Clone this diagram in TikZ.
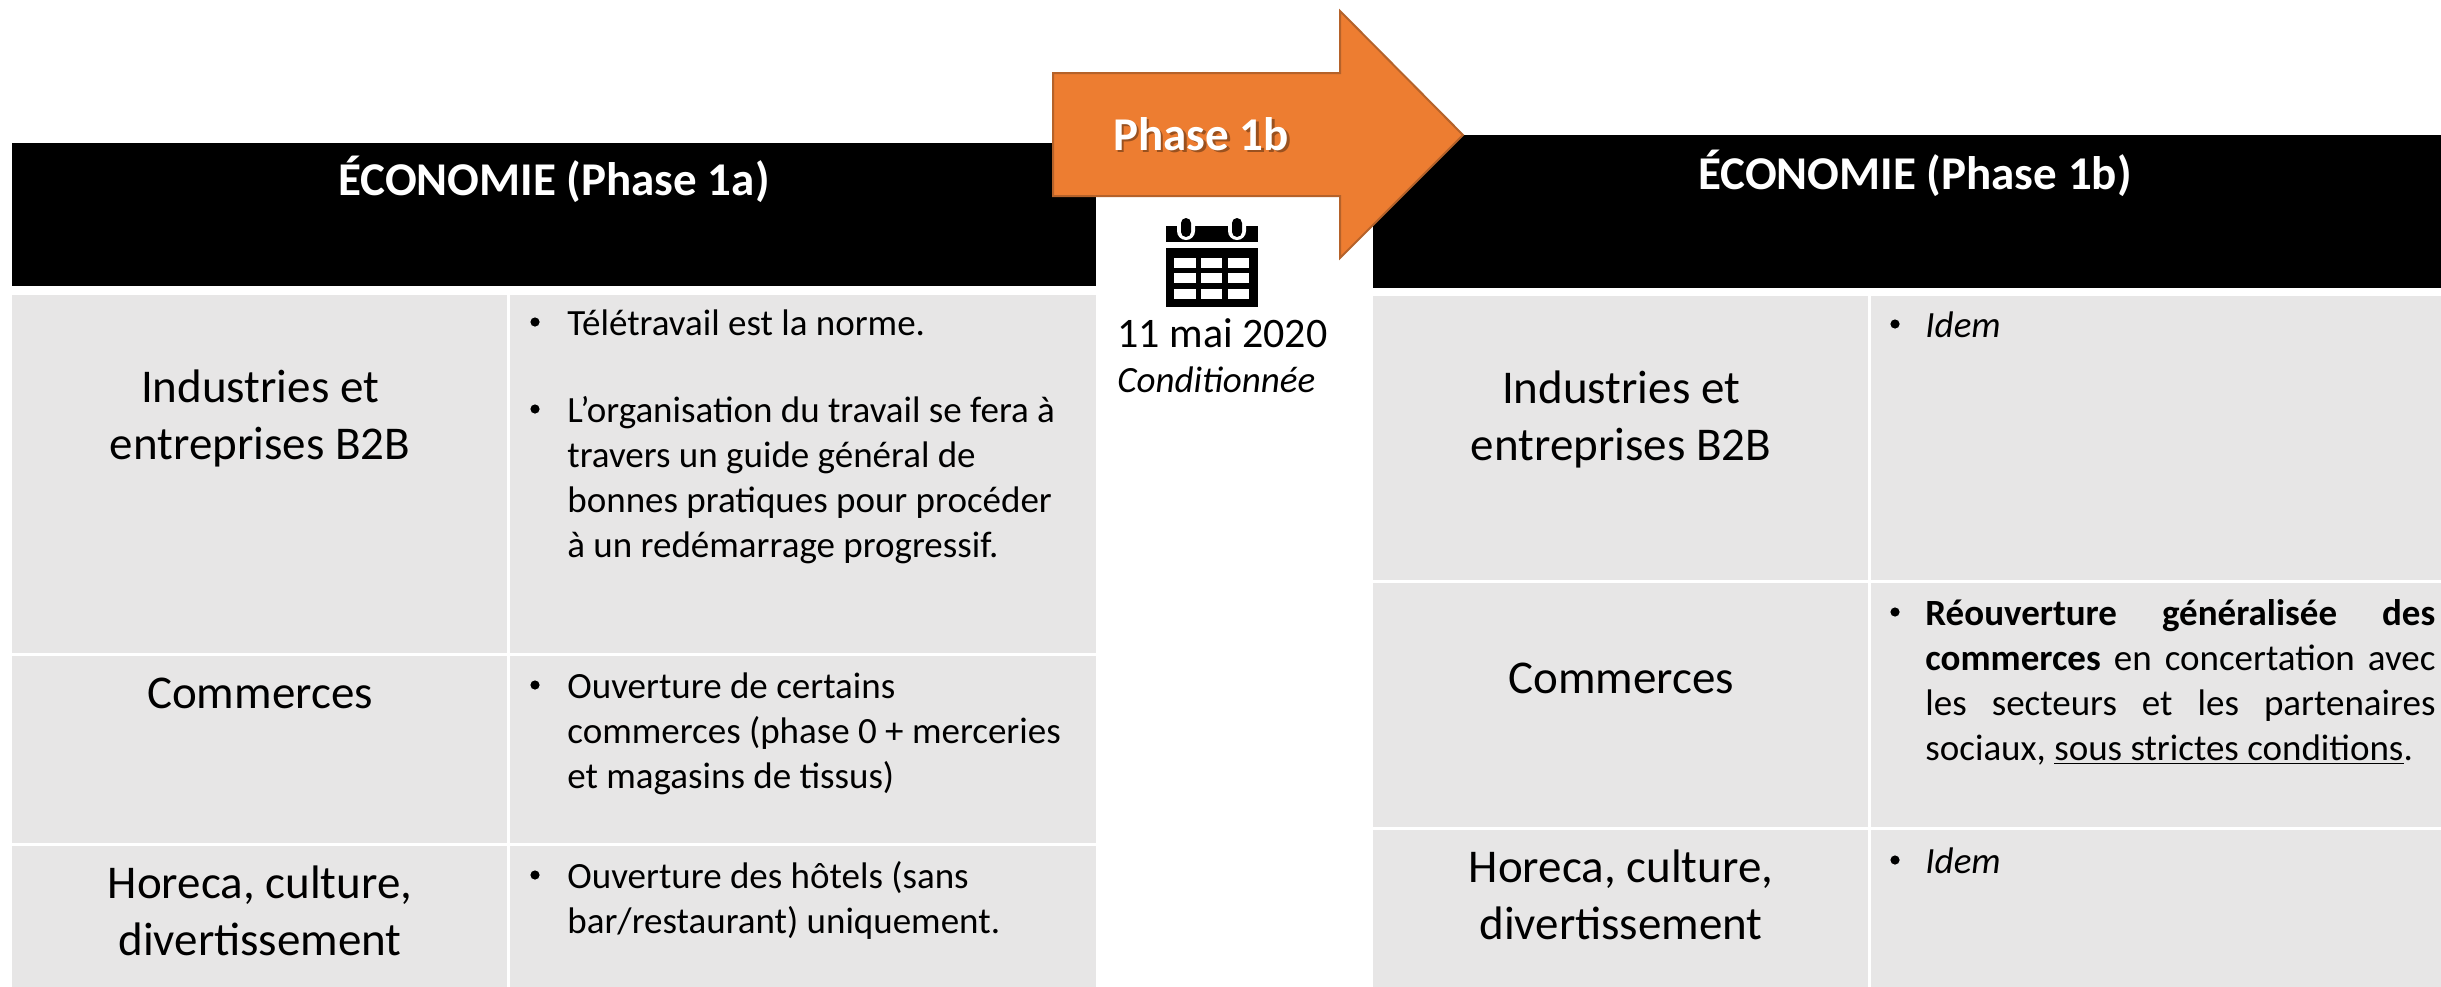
\documentclass[tikz,border=0pt]{standalone}
\usepackage{fontspec}
\setmainfont{Carlito}
\definecolor{cellgrey}{HTML}{E7E6E6}
\definecolor{arroworange}{HTML}{ED7D31}
\definecolor{arrowedge}{HTML}{B5622A}
\begin{document}
\begin{tikzpicture}[x=0.5pt,y=-0.5pt,
  lbl/.style={anchor=base, inner sep=0pt, font=\fontsize{23.5}{28.5}\selectfont},
  blt/.style={anchor=base west, inner sep=0pt, font=\fontsize{18.5}{22.5}\selectfont},
  bdot/.style={circle, fill=black, inner sep=0pt, minimum size=4.6pt},
  hdr/.style={anchor=base, inner sep=0pt, text=white, font=\bfseries\fontsize{23.5}{28}\selectfont},
  cell/.style={fill=cellgrey},
]
\useasboundingbox (0,0) rectangle (2441,986);
\clip (0,0) rectangle (2441,986);
\fill[white] (0,0) rectangle (2441,986);

% ---------- left table ----------
\fill[black] (12,143) rectangle (1096,286);
\node[hdr] (hl) at (554,195) {ÉCONOMIE (Phase 1a)};
\fill[cell] (12,295) rectangle (507,653);
\fill[cell] (510,295) rectangle (1096,653);
\fill[cell] (12,656) rectangle (507,843);
\fill[cell] (510,656) rectangle (1096,843);
\fill[cell] (12,846) rectangle (507,990);
\fill[cell] (510,846) rectangle (1096,990);

\node[lbl] (l1) at (260,402) {\parbox[t]{240pt}{\centering Industries et\\entreprises B2B}};
\node[lbl] (l2) at (260,708) {Commerces};
\node[lbl] (l3) at (260,898) {\parbox[t]{240pt}{\centering Horeca, culture,\\divertissement}};

\node[bdot] (lb1) at (535,322) {};
\node[blt] (lt1) at (567,335) {Télétravail est la norme.};
\node[bdot] (lb2) at (535,409) {};
\node[blt] (lt2) at (567,422) {\parbox[t]{280pt}{\raggedright L’organisation du travail se fera à\\travers un guide général de\\bonnes pratiques pour procéder\\à un redémarrage progressif.}};
\node[bdot] (lb3) at (535,685) {};
\node[blt] (lt3) at (567,698) {\parbox[t]{280pt}{\raggedright Ouverture de certains\\commerces (phase 0 + merceries\\et magasins de tissus)}};
\node[bdot] (lb4) at (535,875) {};
\node[blt] (lt4) at (567,888) {\parbox[t]{280pt}{\raggedright Ouverture des hôtels (sans\\bar/restaurant) uniquement.}};

% ---------- right table ----------
\fill[black] (1373,135) rectangle (2457,288);
\node[hdr] (hr) at (1915,189) {ÉCONOMIE (Phase 1b)};
\fill[cell] (1373,296) rectangle (1868,580);
\fill[cell] (1871,296) rectangle (2457,580);
\fill[cell] (1373,583) rectangle (1868,827);
\fill[cell] (1871,583) rectangle (2457,827);
\fill[cell] (1373,830) rectangle (1868,990);
\fill[cell] (1871,830) rectangle (2457,990);

\node[lbl] (r1) at (1621,403) {\parbox[t]{240pt}{\centering Industries et\\entreprises B2B}};
\node[lbl] (r2) at (1621,693) {Commerces};
\node[lbl] (r3) at (1621,882) {\parbox[t]{240pt}{\centering Horeca, culture,\\divertissement}};

\node[bdot] (rb1) at (1895,324) {};
\node[blt] (rt1) at (1925,337) {\itshape Idem};
\node[bdot] (rb2) at (1895,612) {};
\node[blt] (rt2) at (1925,625) {\parbox[t]{255pt}{%
  \makebox[255pt][s]{\textbf{Réouverture généralisée des}}\\
  \makebox[255pt][s]{\textbf{commerces} en concertation avec}\\
  \makebox[255pt][s]{les secteurs et les partenaires}\\
  sociaux, \underline{sous strictes conditions}.}};
\node[bdot] (rb3) at (1895,860) {};
\node[blt] (rt3) at (1925,873) {\itshape Idem};

% ---------- arrow ----------
\draw[fill=arroworange, draw=arrowedge, line width=1pt]
  (1053,73) -- (1340,73) -- (1340,11) -- (1463,135) -- (1340,258) -- (1340,196) -- (1053,196) -- cycle;
\node[anchor=base west, inner sep=0pt, text=black, opacity=0.35, font=\bfseries\fontsize{23.5}{28}\selectfont] (phs) at (1115.5,152.5) {Phase 1b};
\node[anchor=base west, inner sep=0pt, text=white, font=\bfseries\fontsize{23.5}{28}\selectfont] (ph) at (1113,150) {Phase 1b};

% ---------- calendar ----------
\fill[black] (1166,226) rectangle (1258,242);
\fill[black] (1166,248) rectangle (1258,307);
\foreach \xa/\xb in {1174/1196,1201/1222,1228/1249}
  \foreach \ya/\yb in {258/268,273/283,289/299}
    \fill[white] (\xa,\ya) rectangle (\xb,\yb);
\foreach \cx in {1186,1237}{
  \fill[white, rounded corners=4.5pt] (\cx-9,210) rectangle (\cx+9,240);
  \fill[black, rounded corners=2.5pt] (\cx-5,218) rectangle (\cx+5,237);
}
\node[anchor=base west, inner sep=0pt, font=\fontsize{21}{25}\selectfont] (date) at (1117,347) {11 mai 2020};
\node[anchor=base west, inner sep=0pt, font=\itshape\fontsize{18.5}{22}\selectfont] (cond) at (1117,392) {Conditionnée};
\end{tikzpicture}
\end{document}
